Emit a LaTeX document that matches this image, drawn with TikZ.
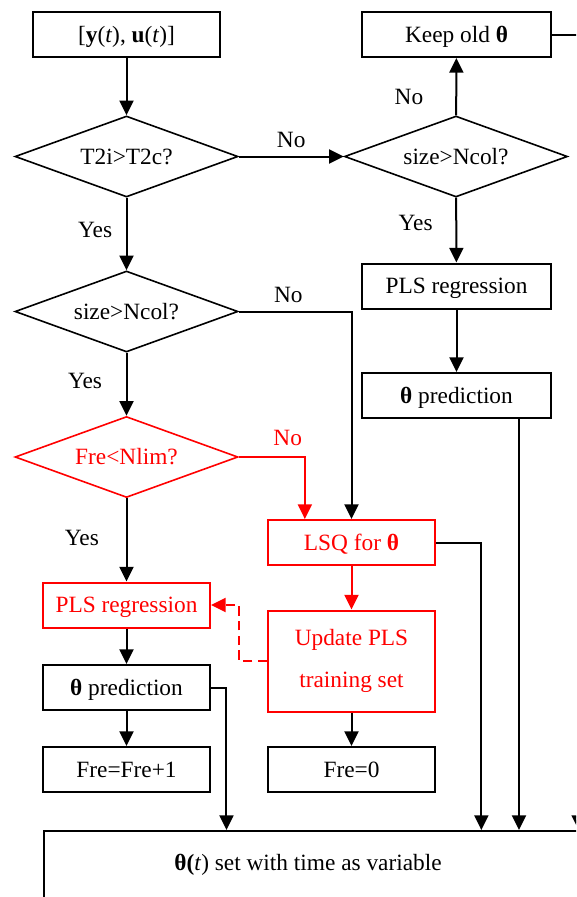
\documentclass[tikz,border=0pt]{standalone}
\usepackage{fontspec}
\setmainfont{Liberation Serif}
\usetikzlibrary{shapes.geometric,arrows.meta}

\begin{document}
\begin{tikzpicture}[x=0.75pt,y=-0.75pt,font=\fontsize{17.5}{21}\selectfont,
  frame/.style={draw,line width=1.5pt,inner sep=0pt},
  box/.style={frame,minimum height=33.75pt,text height=15pt,text depth=3.5pt},
  dec/.style={draw,diamond,aspect=2.75,line width=1.2pt,inner sep=0pt,minimum width=167.25pt,minimum height=60.75pt,text height=15pt,text depth=3.5pt},
  arr/.style={line width=1.5pt,-{Triangle[length=11pt,width=10.5pt]}},
  lab/.style={inner sep=0pt}]
\useasboundingbox (0,0) rectangle (576,897);
\clip (0,0) rectangle (576,897);

% left column
\node [box,minimum width=140.25pt] (in) at (126.5,34.5) {[\textbf{y}(\textit{t}), \textbf{u}(\textit{t})]};
\node [dec] (d1) at (126.5,156.5) {T2i>T2c?};
\node [dec] (d2) at (126.5,311.5) {size>Ncol?};
\node [dec,red] (d3) at (126.5,457) {Fre<Nlim?};
\node [box,red,minimum width=125.25pt] (plsL) at (126.5,605) {PLS regression};
\node [box,minimum width=125.25pt] (predL) at (126.5,687.5) {\textbf{θ} prediction};
\node [box,minimum width=125.25pt] (fre1) at (126.5,769.5) {Fre=Fre+1};

% right column
\node [box,minimum width=141.75pt] (keep) at (456.5,34.5) {Keep old \textbf{θ}};
\node [dec] (d2r) at (456,156.5) {size>Ncol?};
\node [box,minimum width=141.75pt] (plsR) at (456.5,286) {PLS regression};
\node [box,minimum width=141.75pt] (predR) at (456.5,395.5) {\textbf{θ} prediction};

% middle column
\node [box,red,minimum width=125.25pt] (lsq) at (351.5,542.5) {LSQ for \textbf{θ}};
\node [frame,red,minimum width=125.25pt,minimum height=75.75pt,align=center] (upd) at (351.5,661) {Update PLS\\[11pt]training set};
\node [box,minimum width=125.25pt] (fre0) at (351.5,769.5) {Fre=0};

% output
\node [frame,minimum width=433pt,minimum height=75pt,anchor=north west] (out) at (43,830) {};
\node [lab] (outtxt) at (308,864.5) {\textbf{θ(}\textit{t}) set with time as variable};

\coordinate (lq) at ([xshift=-35pt]lsq.north);
\coordinate (lx) at ([xshift=34pt]lsq.east);
\coordinate (px) at ([xshift=11.6pt]predL.east);
\coordinate (pr) at ([xshift=-24.75pt]predR.south east);
\coordinate (kx) at ([xshift=20pt]keep.east);

\draw [arr] (in) -- (d1);
\draw [arr] (d1) -- (d2r) node [lab,midway,above=6pt] {No};
\draw [arr] (d2r) -- (keep) node [lab,pos=0.32,left=24pt] {No};
\draw [arr] (d2r) -- (plsR) node [lab,pos=0.39,left=17pt] {Yes};
\draw [arr] (plsR) -- (predR);
\draw [arr] (pr) -- (pr |- out.north);
\draw [arr] (keep.east) -| (kx |- out.north);
\draw [arr] (d1) -- (d2) node [lab,pos=0.45,left=10pt] {Yes};
\draw [arr] (d2.east) -| (lsq.north) node [lab,pos=0.22,above=6pt] {No};
\draw [arr] (d2) -- (d3) node [lab,pos=0.45,left=17.6pt] {Yes};
\draw [arr,red] (d3.east) -| (lq) node [lab,pos=0.37,above=8pt] {No};
\draw [arr] (d3) -- (plsL) node [lab,pos=0.48,left=20pt] {Yes};
\draw [arr] (lsq.east) -| (lx |- out.north);
\draw [arr,red] (lsq) -- (upd);
\draw [arr,red,dash pattern=on 7pt off 4pt] (upd.west) -- ++(-28,0) |- (plsL.east);
\draw [arr] (plsL) -- (predL);
\draw [arr] (predL) -- (fre1);
\draw [arr] (predL.east) -| (px |- out.north);
\draw [arr] (upd) -- (fre0);
\end{tikzpicture}
\end{document}
